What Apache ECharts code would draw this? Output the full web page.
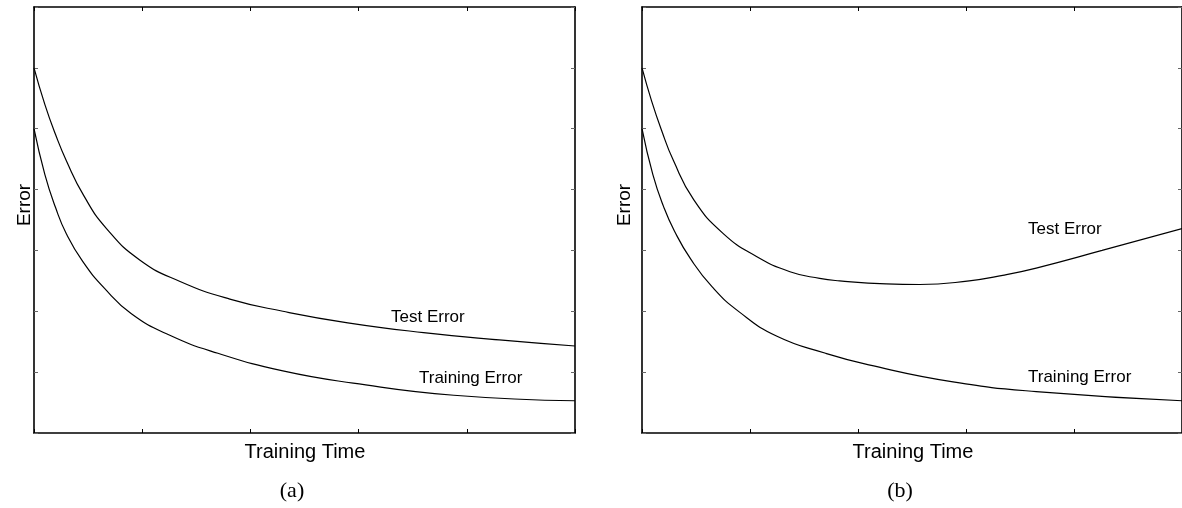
<!DOCTYPE html>
<html>
<head>
<meta charset="utf-8">
<script src="https://cdn.jsdelivr.net/npm/echarts@6/dist/echarts.min.js"></script>
<style>
  html, body { margin: 0; padding: 0; background: #fff; }
  #chart { width: 1182px; height: 508px; }
</style>
</head>
<body>
<div id="chart"></div>
<script>
  // values, x in tick units (0..5), y in tick units (0..7)
  var xTicks = [0, 1, 2, 3, 4, 5];
  var yTicks = [0, 1, 2, 3, 4, 5, 6, 7];

  var testAX = [0, 0.1, 0.2, 0.3, 0.46, 0.67, 0.98, 1.35, 1.81, 2.3, 2.9, 3.6, 4.3, 5.0];
  var testAY = [6.0, 5.40, 4.90, 4.47, 3.90, 3.36, 2.84, 2.49, 2.20, 2.00, 1.81, 1.65, 1.53, 1.43];

  var trainAX = [0, 0.1, 0.2, 0.3, 0.45, 0.65, 0.9, 1.25, 1.7, 2.3, 2.95, 3.88, 5.0];
  var trainAY = [5.0, 4.25, 3.70, 3.27, 2.82, 2.38, 1.96, 1.61, 1.31, 1.02, 0.82, 0.62, 0.53];

  var testBX = [0, 0.09, 0.18, 0.29, 0.48, 0.75, 1.06, 1.37, 1.645, 1.83, 2.26, 2.57, 3.03, 3.34, 3.65, 4.26, 5.0];
  var testBY = [6.0, 5.45, 4.98, 4.48, 3.83, 3.28, 2.90, 2.65, 2.54, 2.50, 2.45, 2.44, 2.50, 2.59, 2.71, 3.00, 3.36];

  var trainBX = [0, 0.1, 0.2, 0.3, 0.45, 0.65, 0.9, 1.25, 1.7, 2.1, 2.88, 3.65, 5.0];
  var trainBY = [5.0, 4.25, 3.72, 3.32, 2.86, 2.40, 1.99, 1.59, 1.31, 1.12, 0.84, 0.68, 0.53];

  function pairs(xs, ys) {
    return xs.map(function (x, i) { return [x, ys[i]]; });
  }

  var sansFont = '"Liberation Sans", Arial, sans-serif';

  function xAx(grid, pos) {
    return {
      type: 'value', gridIndex: grid, position: pos,
      min: xTicks[0], max: xTicks[xTicks.length - 1], interval: 1,
      axisLine: {show: true, onZero: false, lineStyle: {color: '#000', width: 1.6}},
      axisTick: {show: true, inside: true, length: 4, lineStyle: {color: '#000', width: 1}},
      axisLabel: {show: false},
      splitLine: {show: false}
    };
  }

  function yAx(grid, pos) {
    return {
      type: 'value', gridIndex: grid, position: pos,
      min: yTicks[0], max: yTicks[yTicks.length - 1], interval: 1,
      axisLine: {show: true, onZero: false, lineStyle: {color: '#000', width: 1.6}},
      axisTick: {show: true, inside: true, length: 4, lineStyle: {color: '#666', width: 1}},
      axisLabel: {show: false},
      splitLine: {show: false}
    };
  }

  function line(data, xi, yi) {
    return {
      type: 'line', data: data, xAxisIndex: xi, yAxisIndex: yi,
      showSymbol: false, symbol: 'none', smooth: 0.5,
      lineStyle: {color: '#000', width: 1.2}, silent: true, animation: false
    };
  }

  function txt(x, y, s, size, align, rot) {
    return {
      type: 'text', x: x, y: y, rotation: rot || 0, silent: true,
      style: {text: s, fill: '#000', font: size + 'px ' + sansFont,
        textAlign: align || 'left', textVerticalAlign: 'middle'}
    };
  }

  var myChart = echarts.init(document.getElementById('chart'));
  myChart.setOption({
    animation: false,
    grid: [
      {left: 34, top: 7, width: 541, height: 426},
      {left: 642, top: 7, width: 542, height: 426}
    ],
    xAxis: [xAx(0, 'bottom'), xAx(0, 'top'), xAx(1, 'bottom'), xAx(1, 'top')],
    yAxis: [yAx(0, 'left'), yAx(0, 'right'), yAx(1, 'left'), yAx(1, 'right')],
    series: [
      line(pairs(testAX, testAY), 0, 0),
      line(pairs(trainAX, trainAY), 0, 0),
      line(pairs(testBX, testBY), 2, 2),
      line(pairs(trainBX, trainBY), 2, 2)
    ],
    graphic: [
      txt(391, 317, 'Test Error', 17),
      txt(419, 378, 'Training Error', 17),
      txt(1028, 229, 'Test Error', 17),
      txt(1028, 377, 'Training Error', 17),
      txt(305, 452, 'Training Time', 20, 'center'),
      txt(913, 452, 'Training Time', 20, 'center'),
      txt(25, 205, 'Error', 19, 'center', Math.PI / 2),
      txt(625, 205, 'Error', 19, 'center', Math.PI / 2),
      {type: 'text', silent: true,
        style: {text: '(a)', x: 292, y: 491, fill: '#000', font: '22px "Liberation Serif", serif',
          textAlign: 'center', textVerticalAlign: 'middle'}},
      {type: 'text', silent: true,
        style: {text: '(b)', x: 900, y: 491, fill: '#000', font: '22px "Liberation Serif", serif',
          textAlign: 'center', textVerticalAlign: 'middle'}}
    ]
  });
</script>
</body>
</html>
